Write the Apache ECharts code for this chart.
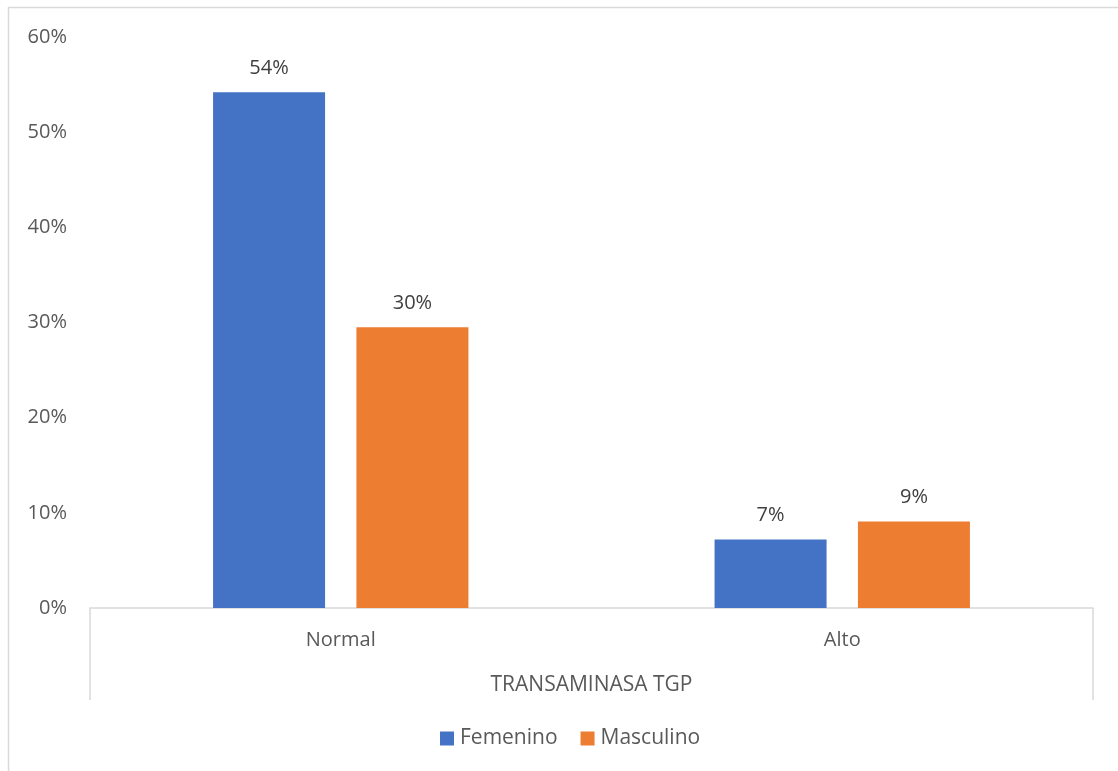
<!DOCTYPE html>
<html>
<head>
<meta charset="utf-8">
<script src="https://cdn.jsdelivr.net/npm/echarts@6/dist/echarts.min.js"></script>
<style>
  html, body { margin: 0; padding: 0; background: #ffffff; }
  #chart { width: 1118px; height: 771px; }
</style>
</head>
<body>
<div id="chart"></div>
<script>
// Categories and series values (fractions of the total)
const categories = ['Normal', 'Alto'];
const femenino = [0.542, 0.072];
const masculino = [0.295, 0.091];
const yTicks = { min: 0, max: 0.6, interval: 0.1 };
const axisTitle = 'TRANSAMINASA TGP';

const FONT = '"Open Sans", "Noto Sans", sans-serif';
const TEXT = '#595959';
const LINE = '#d9d9d9';

const W = 1118, H = 771;
const grid = { left: 90, right: 25, top: 37, bottom: 163 };
const axisY = H - grid.bottom;       // y of the category axis line
const bracketBottom = 700;           // lower end of the category bracket

const pct = v => Math.round(v * 100) + '%';

const chart = echarts.init(document.getElementById('chart'), null, { renderer: 'canvas' });

const barLabel = {
  show: true,
  position: 'top',
  distance: 14,
  formatter: p => pct(p.value),
  fontFamily: FONT,
  fontSize: 20,
  color: '#404040'
};

chart.setOption({
  backgroundColor: '#ffffff',
  animation: false,
  textStyle: { fontFamily: FONT },
  grid: grid,
  legend: {
    data: ['Femenino', 'Masculino'],
    left: 435,
    top: 723,
    itemWidth: 14,
    itemHeight: 14,
    itemGap: 23,
    icon: 'rect',
    textStyle: { fontFamily: FONT, fontSize: 21, color: TEXT, padding: [0, 0, 0, 1] }
  },
  xAxis: {
    type: 'category',
    data: categories,
    name: axisTitle,
    nameLocation: 'middle',
    nameGap: 67,
    nameTextStyle: { fontFamily: FONT, fontSize: 21, color: TEXT },
    axisLine: { show: true, lineStyle: { color: LINE, width: 1.5 } },
    axisTick: { show: false },
    axisLabel: { margin: 22, fontFamily: FONT, fontSize: 20, color: TEXT },
    splitLine: { show: false }
  },
  yAxis: {
    type: 'value',
    min: yTicks.min,
    max: yTicks.max,
    interval: yTicks.interval,
    axisLine: { show: false },
    axisTick: { show: false },
    splitLine: { show: false },
    axisLabel: {
      margin: 23,
      fontFamily: FONT,
      fontSize: 20,
      color: TEXT,
      formatter: v => pct(v)
    }
  },
  series: [
    {
      name: 'Femenino',
      type: 'bar',
      data: femenino,
      barWidth: 112,
      barGap: '28%',
      itemStyle: { color: '#4472C4' },
      label: barLabel
    },
    {
      name: 'Masculino',
      type: 'bar',
      data: masculino,
      barWidth: 112,
      barGap: '28%',
      itemStyle: { color: '#ED7D31' },
      label: barLabel
    }
  ],
  graphic: [
    // chart frame (top and left edges visible)
    {
      type: 'rect',
      silent: true,
      shape: { x: 8.5, y: 7.5, width: W, height: H },
      style: { fill: 'none', stroke: LINE, lineWidth: 1.5 }
    },
    // bracket under the category axis
    {
      type: 'line',
      silent: true,
      shape: { x1: grid.left, y1: axisY, x2: grid.left, y2: bracketBottom },
      style: { stroke: LINE, lineWidth: 1.5 }
    },
    {
      type: 'line',
      silent: true,
      shape: { x1: W - grid.right, y1: axisY, x2: W - grid.right, y2: bracketBottom },
      style: { stroke: LINE, lineWidth: 1.5 }
    }
  ]
});
</script>
</body>
</html>
